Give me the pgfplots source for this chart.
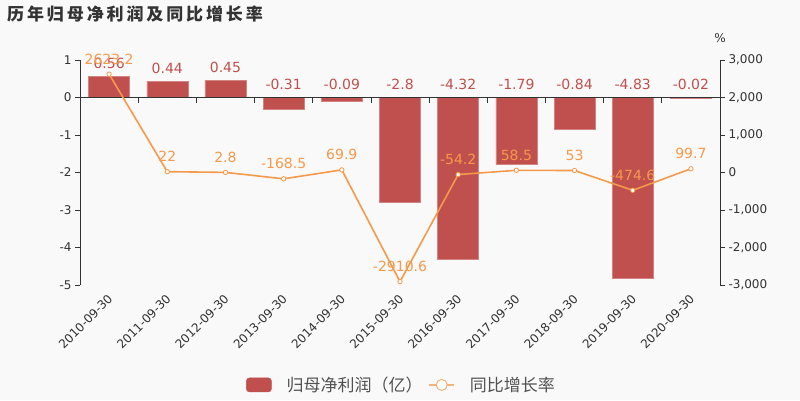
\documentclass[border=0pt]{standalone}
\usepackage{pgfplots}
\pgfplotsset{compat=1.18}
\usepackage{fontspec}
\setmainfont{DejaVu Sans}
\newfontfamily\cjk{Noto Sans CJK SC}
\definecolor{bg}{HTML}{F9F9F9}
\definecolor{barred}{HTML}{C0504D}
\definecolor{linec}{HTML}{F5994A}
\definecolor{txt}{HTML}{333333}

\begin{document}
\begin{tikzpicture}[x=1pt,y=1pt]
\fill[bg] (0,0) rectangle (800,400);
\node[anchor=west, text=txt, font=\cjk\bfseries\fontsize{17}{17}\selectfont, inner sep=0pt] at (7,386)
  {\addfontfeatures{LetterSpace=17}历年归母净利润及同比增长率};
\node[text=txt, font=\fontsize{12}{12}\selectfont] at (720,362) {\%};

\begin{axis}[
  at={(80pt,115pt)}, anchor=south west,
  width=640pt, height=225pt, scale only axis,
  xmin=-0.5, xmax=10.5, ymin=-5, ymax=1,
  axis y line*=left, axis x line*=bottom,
  x axis line style={draw=none},
  y axis line style={draw=txt, line width=0.8pt},
  xtick={0,...,10},
  xticklabels={2010-09-30,2011-09-30,2012-09-30,2013-09-30,2014-09-30,2015-09-30,2016-09-30,2017-09-30,2018-09-30,2019-09-30,2020-09-30},
  xticklabel style={rotate=45, anchor=north east, text=txt, font=\fontsize{12}{12}\selectfont, inner sep=1pt, xshift=-3pt},
  xtick style={draw=none},
  ytick={-5,...,1},
  yticklabels={-5,-4,-3,-2,-1,0,1},
  yticklabel style={text=txt, font=\fontsize{12}{12}\selectfont},
  ytick style={draw=txt, line width=0.8pt},
  tick align=outside, major tick length=5pt,
  clip=false,
]
\addplot[ybar, bar width=41pt, fill=barred, draw=barred!70!white] coordinates {
  (0,0.56) (1,0.44) (2,0.45) (3,-0.31) (4,-0.09) (5,-2.8)
  (6,-4.32) (7,-1.79) (8,-0.84) (9,-4.83) (10,-0.02)
};
\addplot[draw=none, nodes near coords, point meta=explicit symbolic,
  nodes near coords style={text=barred, font=\fontsize{14}{14}\selectfont, anchor=center, yshift=13pt}]
  coordinates {
  (0,0.56)[0.56] (1,0.44)[0.44] (2,0.45)[0.45] (3,0)[-0.31] (4,0)[-0.09] (5,0)[-2.8]
  (6,0)[-4.32] (7,0)[-1.79] (8,0)[-0.84] (9,0)[-4.83] (10,0)[-0.02]
};
\draw[txt, line width=0.8pt] (axis cs:-0.5,0) -- (axis cs:10.5,0);
\pgfplotsinvokeforeach{0.5,1.5,...,9.5}{
  \draw[txt, line width=0.8pt] (axis cs:#1,0) -- ++(0pt,-5pt);
}
\end{axis}

\begin{axis}[
  at={(80pt,115pt)}, anchor=south west,
  width=640pt, height=225pt, scale only axis,
  xmin=-0.5, xmax=10.5, ymin=-3000, ymax=3000,
  axis y line*=right, axis x line=none,
  y axis line style={draw=txt, line width=0.8pt},
  ytick={-3000,-2000,...,3000},
  yticklabels={{-3,000},{-2,000},{-1,000},0,{1,000},{2,000},{3,000}},
  yticklabel style={text=txt, font=\fontsize{12}{12}\selectfont},
  ytick style={draw=txt, line width=0.8pt},
  tick align=outside, major tick length=5pt,
  clip=false,
  legend style={at={(0.5008,-0.444)}, anchor=center, draw=none, fill=none,
    legend columns=2, text=txt!85!white, font=\cjk\fontsize{17}{17}\selectfont,
    nodes={inner sep=0pt},
    /tikz/every even column/.append style={column sep=6pt},
    /tikz/every odd column/.append style={column sep=15pt}},
]
\addlegendimage{legend image code/.code={\fill[barred, rounded corners=3pt] (0pt,-7pt) rectangle (25pt,7pt);}}
\addlegendentry{归母净利润（亿）}
\addplot[linec, line width=1.6pt, mark=*, mark size=2.2pt,
  mark options={fill=white, draw=linec, line width=0.8pt},
  nodes near coords, point meta=explicit symbolic,
  nodes near coords style={text=linec, font=\fontsize{14}{14}\selectfont, anchor=center, yshift=15pt},
  legend image code/.code={\draw[linec!75!white, line width=1.2pt] (0pt,0pt) -- (25pt,0pt);
    \draw[linec!75!white, fill=white, line width=1pt] (12.5pt,0pt) circle (5.5pt);}]
  coordinates {
  (0,2623.2)[2623.2] (1,22)[22] (2,2.8)[2.8] (3,-168.5)[-168.5] (4,69.9)[69.9]
  (5,-2910.6)[-2910.6] (6,-54.2)[-54.2] (7,58.5)[58.5] (8,53)[53]
  (9,-474.6)[-474.6] (10,99.7)[99.7]
};
\addlegendentry{同比增长率}
\end{axis}
\end{tikzpicture}
\end{document}
